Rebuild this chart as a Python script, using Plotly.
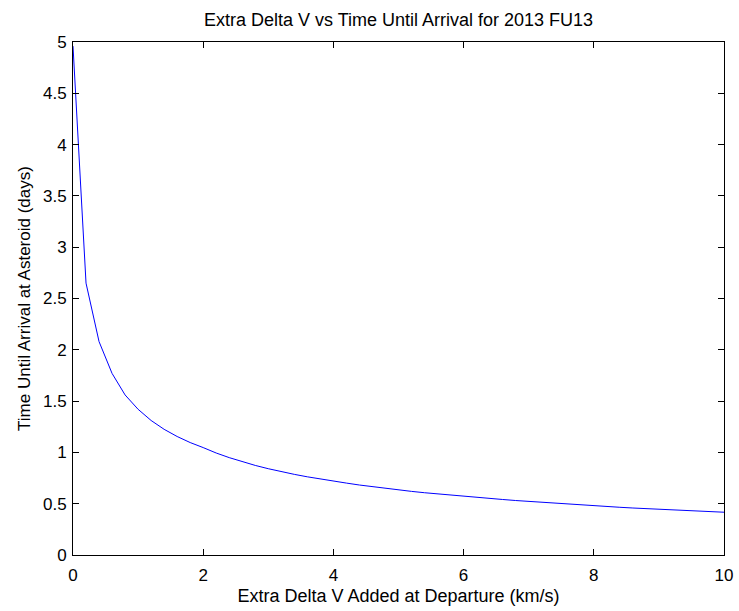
import plotly.graph_objects as go

# Extra delta-v added at departure (km/s), sampled every 0.2 km/s
delta_v = [round(0.2 * i, 1) for i in range(51)]

# Time until arrival at the asteroid (days)
arrival_days = [
    4.96, 2.65, 2.08, 1.77, 1.56, 1.42, 1.311, 1.225, 1.155, 1.096,
    1.047, 0.994, 0.949, 0.909, 0.873, 0.841, 0.812, 0.786, 0.762, 0.740,
    0.720, 0.701, 0.682, 0.665, 0.649, 0.634, 0.620, 0.607, 0.595, 0.583,
    0.572, 0.561, 0.551, 0.541, 0.531, 0.522, 0.512, 0.504, 0.495, 0.487,
    0.480, 0.472, 0.465, 0.458, 0.452, 0.445, 0.439, 0.433, 0.427, 0.422,
    0.417,
]

x_ticks = [0, 2, 4, 6, 8, 10]
y_ticks = [0, 0.5, 1, 1.5, 2, 2.5, 3, 3.5, 4, 4.5, 5]
y_tick_text = ["0", "0.5", "1", "1.5", "2", "2.5", "3", "3.5", "4", "4.5", "5"]

font_family = "Liberation Sans, Arial, sans-serif"

fig = go.Figure(
    go.Scatter(
        x=delta_v,
        y=arrival_days,
        mode="lines",
        line=dict(color="#0000ff", width=1),
        hoverinfo="skip",
    )
)

axis_common = dict(
    showgrid=False,
    zeroline=False,
    showline=True,
    linecolor="black",
    linewidth=1,
    mirror="ticks",
    ticks="inside",
    ticklen=6,
    tickwidth=1,
    tickcolor="black",
    automargin=False,
    tickfont=dict(family=font_family, size=17, color="black"),
)

fig.update_xaxes(
    range=[0, 10],
    tickvals=x_ticks,
    ticklabelstandoff=5,
    title=dict(
        text="Extra Delta V Added at Departure (km/s)",
        font=dict(family=font_family, size=18, color="black"),
        standoff=4,
    ),
    **axis_common,
)
fig.update_yaxes(
    range=[0, 5],
    tickvals=y_ticks,
    ticktext=y_tick_text,
    ticklabelstandoff=2,
    title=dict(
        text="Time Until Arrival at Asteroid (days)",
        font=dict(family=font_family, size=17, color="black"),
        standoff=8,
    ),
    **axis_common,
)

fig.update_layout(
    width=739,
    height=611,
    margin=dict(l=73, r=15, t=42, b=56),
    paper_bgcolor="white",
    plot_bgcolor="white",
    showlegend=False,
    title=dict(
        text="Extra Delta V vs Time Until Arrival for 2013 FU13",
        font=dict(family=font_family, size=18, color="black"),
        x=0.5,
        xref="paper",
        xanchor="center",
        y=1 - 20 / 611,
        yref="container",
        yanchor="middle",
    ),
)

fig.write_html("out.html")
